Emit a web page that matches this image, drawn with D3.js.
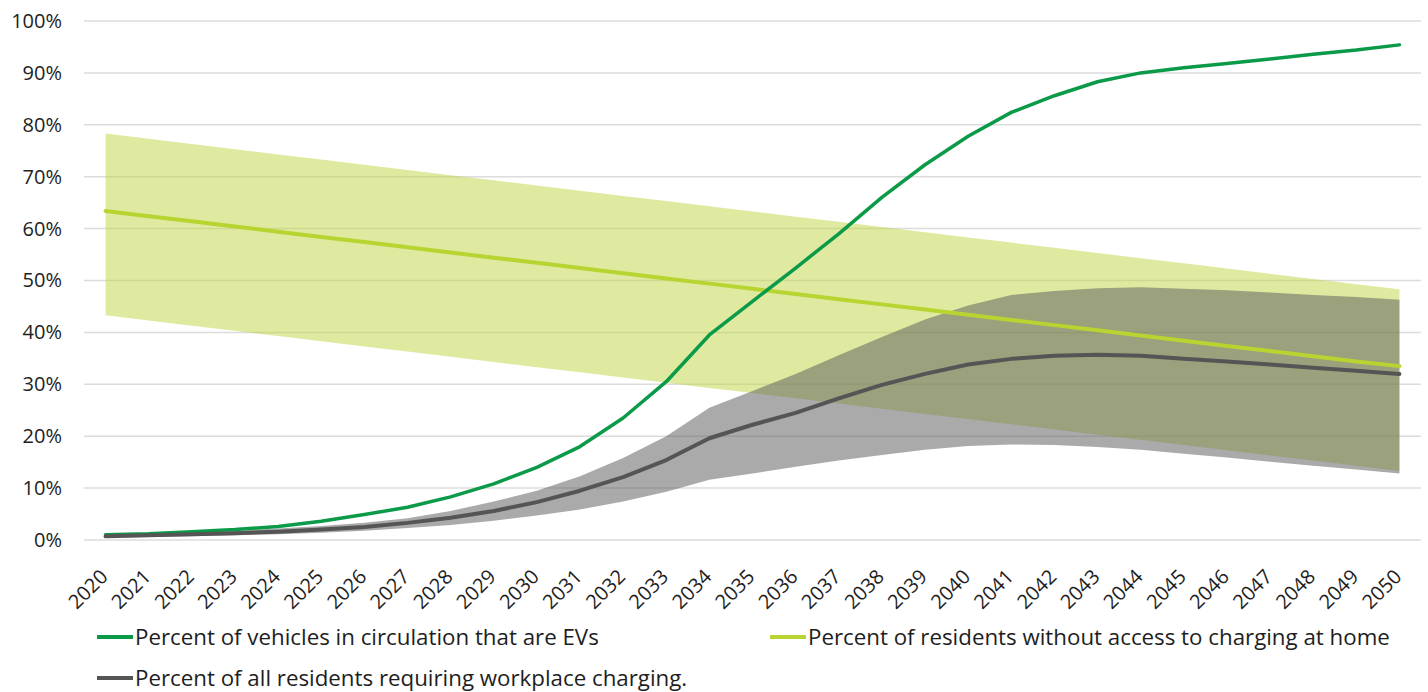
<!DOCTYPE html>
<html>
<head>
<meta charset="utf-8">
<script src="https://cdn.jsdelivr.net/npm/d3@7"></script>
<style>
    html, body { margin: 0; padding: 0; background: #fff; }
    svg { display: block; font-family: "Open Sans", sans-serif; }
    .axis { font-family: "Open Sans", sans-serif; }
    .axis text { fill: #1e1e1e; }
</style>
</head>
<body>
<div id="chart"></div>
<script>
const years = d3.range(2020, 2051).map(String);

// Percent of vehicles in circulation that are EVs
const evShare = [1.0, 1.2, 1.6, 2.0, 2.6, 3.6, 4.9, 6.3, 8.3, 10.8, 14.0, 18.0, 23.5, 30.5, 39.5, 46.0,
    52.4, 59.0, 66.0, 72.3, 77.8, 82.4, 85.6, 88.3, 90.0, 91.0, 91.8, 92.7, 93.6, 94.4, 95.4];

// Percent of residents without access to charging at home (line and range)
const noHomeCharging = [63.4, 62.4, 61.4, 60.4, 59.4, 58.4, 57.4, 56.4, 55.4, 54.4, 53.4, 52.4, 51.4, 50.4, 49.4,
    48.4, 47.4, 46.4, 45.4, 44.4, 43.4, 42.4, 41.4, 40.4, 39.4, 38.4, 37.4, 36.4, 35.4, 34.4, 33.5];
const noHomeHigh = [78.3, 77.3, 76.3, 75.3, 74.3, 73.3, 72.3, 71.3, 70.3, 69.3, 68.3, 67.3, 66.3, 65.3, 64.3,
    63.3, 62.3, 61.3, 60.3, 59.3, 58.3, 57.3, 56.3, 55.3, 54.3, 53.3, 52.3, 51.3, 50.3, 49.3, 48.3];
const noHomeLow = [43.3, 42.3, 41.3, 40.3, 39.3, 38.3, 37.3, 36.3, 35.3, 34.3, 33.3, 32.3, 31.3, 30.3, 29.3,
    28.3, 27.3, 26.3, 25.3, 24.3, 23.3, 22.3, 21.3, 20.3, 19.3, 18.3, 17.3, 16.3, 15.3, 14.3, 13.3];

// Percent of all residents requiring workplace charging (line and range)
const workplace = [0.7, 0.9, 1.1, 1.3, 1.6, 2.0, 2.5, 3.3, 4.3, 5.6, 7.3, 9.5, 12.1, 15.4, 19.6, 22.2,
    24.5, 27.3, 29.9, 32.0, 33.8, 34.9, 35.5, 35.7, 35.5, 34.9, 34.4, 33.8, 33.2, 32.6, 32.0];
const workplaceHigh = [1.0, 1.2, 1.5, 1.8, 2.2, 2.7, 3.3, 4.2, 5.6, 7.4, 9.5, 12.3, 15.8, 20.0, 25.5, 28.7,
    32.0, 35.6, 39.1, 42.5, 45.2, 47.2, 48.0, 48.5, 48.7, 48.4, 48.1, 47.7, 47.2, 46.8, 46.3];
const workplaceLow = [0.4, 0.6, 0.7, 0.9, 1.1, 1.4, 1.8, 2.3, 2.9, 3.7, 4.7, 5.9, 7.4, 9.3, 11.6, 12.8,
    14.1, 15.3, 16.4, 17.4, 18.1, 18.4, 18.3, 17.9, 17.4, 16.6, 15.9, 15.1, 14.3, 13.6, 12.8];

const yTicks = [0, 10, 20, 30, 40, 50, 60, 70, 80, 90, 100];

const legendItems = [
    { label: 'Percent of vehicles in circulation that are EVs', color: '#0a9a48', col: 0, row: 0 },
    { label: 'Percent of residents without access to charging at home', color: '#b8d431', col: 1, row: 0 },
    { label: 'Percent of all residents requiring workplace charging.', color: '#555555', col: 0, row: 1 },
];

const W = 1428, H = 692;
const margin = { top: 21, right: 7, bottom: 152, left: 84 };
const width = W - margin.left - margin.right;
const height = H - margin.top - margin.bottom;

const svg = d3.select('#chart').append('svg')
    .attr('width', W)
    .attr('height', H);
const main = svg.append('g')
    .attr('transform', `translate(${[margin.left, margin.top]})`);

const x = d3.scalePoint()
    .domain(years)
    .range([0, width])
    .padding(0.5);
const y = d3.scaleLinear()
    .domain([0, 100])
    .range([height, 0]);

// gridlines
main.append('g')
    .selectAll('line')
    .data(yTicks)
    .join('line')
    .attr('x1', 0)
    .attr('x2', width)
    .attr('y1', d => y(d))
    .attr('y2', d => y(d))
    .attr('stroke', '#dcdcdc')
    .attr('stroke-width', 1.5);

// y axis labels
const yAxisG = main.append('g')
    .attr('class', 'axis y')
    .call(d3.axisLeft(y).tickValues(yTicks).tickSize(0).tickPadding(22).tickFormat(d => d + '%'));
yAxisG.select('.domain').remove();
yAxisG.selectAll('text').style('font-size', '20px');

// x axis labels
const xAxisG = main.append('g')
    .attr('class', 'axis x')
    .attr('transform', `translate(0,${height})`)
    .call(d3.axisBottom(x).tickSize(0));
xAxisG.select('.domain').remove();
xAxisG.selectAll('text')
    .style('font-size', '20px')
    .style('text-anchor', 'end')
    .attr('y', 0)
    .attr('dx', 0)
    .attr('dy', '0.35em')
    .attr('transform', 'translate(-2,33) rotate(-45)');

// ranges
const band = (hi, lo) => d3.area()
    .x((d, i) => x(years[i]))
    .y0((d, i) => y(lo[i]))
    .y1((d, i) => y(hi[i]));

main.append('path')
    .datum(noHomeHigh)
    .attr('d', band(noHomeHigh, noHomeLow))
    .attr('fill', '#bfd541')
    .attr('fill-opacity', 0.5);

main.append('path')
    .datum(workplaceHigh)
    .attr('d', band(workplaceHigh, workplaceLow))
    .attr('fill', '#5f5f5f')
    .attr('fill-opacity', 0.53);

// lines
const line = d3.line()
    .x((d, i) => x(years[i]))
    .y(d => y(d));

const series = [
    { values: noHomeCharging, color: '#b8d431', w: 4 },
    { values: evShare, color: '#0a9a48', w: 3.5 },
    { values: workplace, color: '#555555', w: 4 },
];
main.selectAll('.series')
    .data(series)
    .join('path')
    .attr('class', 'series')
    .attr('d', d => line(d.values))
    .attr('fill', 'none')
    .attr('stroke', d => d.color)
    .attr('stroke-width', d => d.w)
    .attr('stroke-linejoin', 'round')
    .attr('stroke-linecap', 'round');

// legend
const legend = svg.append('g');
const legendG = legend.selectAll('g')
    .data(legendItems)
    .join('g')
    .attr('transform', d => `translate(${[97 + d.col * 673, 637 + d.row * 41]})`);
legendG.append('line')
    .attr('x1', 0)
    .attr('x2', 36)
    .attr('stroke', d => d.color)
    .attr('stroke-width', 4);
legendG.append('text')
    .attr('x', 38)
    .attr('dy', '0.35em')
    .style('font-size', '22.3px')
    .attr('fill', '#1e1e1e')
    .text(d => d.label);
</script>
</body>
</html>
